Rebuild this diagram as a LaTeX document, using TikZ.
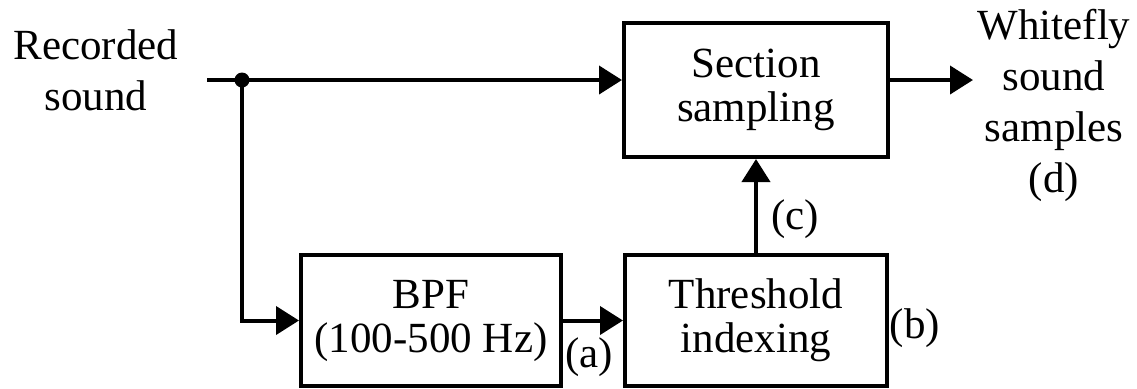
\documentclass[tikz,border=0pt]{standalone}
\usepackage{fontspec}
\setmainfont{Liberation Serif}
\usetikzlibrary{arrows.meta}
\begin{document}
\begin{tikzpicture}[x=0.5pt,y=-0.5pt,
  box/.style={draw, line width=2pt, inner sep=0pt, align=center, font=\fontsize{21.5}{22}\selectfont},
  lbl/.style={inner sep=0pt, align=center, font=\fontsize{21.5}{25.5}\selectfont},
  conn/.style={line width=2pt},
  arr/.style={conn, -{Triangle[length=11.5pt,width=14pt]}}]
\useasboundingbox (0,0) rectangle (1137,388);
\node[box, minimum width=132pt, minimum height=67pt] (sec) at (756,90) {Section\\sampling};
\node[box, minimum width=130pt, minimum height=65.5pt] (bpf) at (431,320.5) {BPF\\(100-500 Hz)};
\node[box, minimum width=131pt, minimum height=65.5pt] (thr) at (756,320.5) {Threshold\\indexing};
\node[lbl] (rec) at (96,70.5) {Recorded\\sound};
\node[lbl] (wf) at (1054,105) {Whitefly\\sound\\samples\\(d)};
\node[lbl] (la) at (589,357) {(a)};
\node[lbl] (lb) at (915,328) {(b)};
\node[lbl] (lc) at (795,219) {(c)};
\coordinate (in) at (207,80);
\coordinate (j) at (242,80);
\coordinate (out) at (973,80);
\draw[conn] (in) -- (j);
\draw[arr] (j) -- (j -| sec.west);
\draw[arr] (j) |- (bpf.west);
\draw[arr] (bpf.east) -- (thr.west);
\draw[arr] (thr.north) -- (sec.south);
\draw[arr] (out -| sec.east) -- (out);
\fill (j) circle (3.75pt);
\end{tikzpicture}
\end{document}
